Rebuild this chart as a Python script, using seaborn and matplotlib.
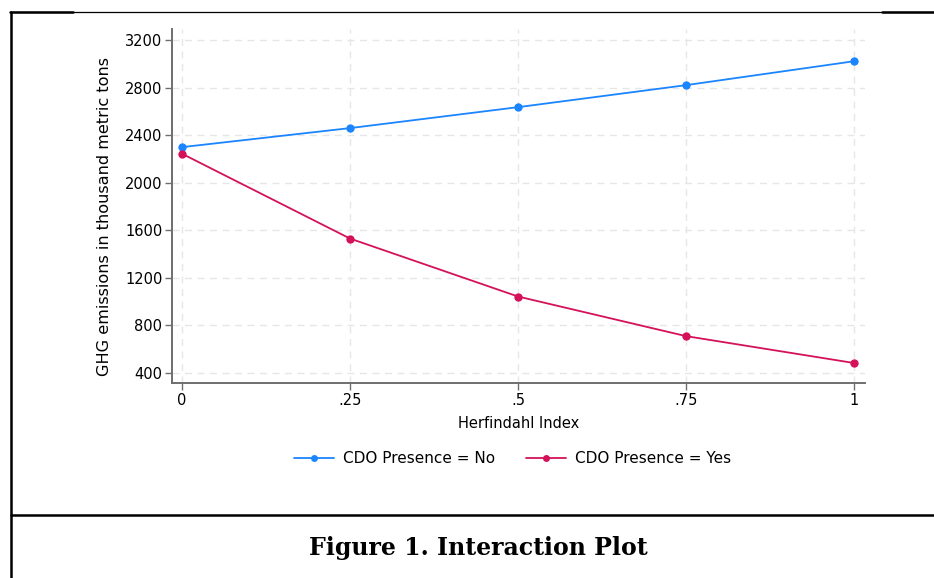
import pandas as pd
import matplotlib.pyplot as plt
import matplotlib.lines as mlines
import seaborn as sns

# values
herfindahl = [0, 0.25, 0.5, 0.75, 1]
ghg_no = [2299, 2459, 2635, 2820, 3021]
ghg_yes = [2243, 1530, 1043, 710, 484]
groups = ['CDO Presence = No', 'CDO Presence = Yes']
xtick_labels = ['0', '.25', '.5', '.75', '1']
yticks = [400, 800, 1200, 1600, 2000, 2400, 2800, 3200]

df = pd.DataFrame({
    'Herfindahl Index': herfindahl * 2,
    'GHG': ghg_no + ghg_yes,
    'group': [groups[0]] * len(ghg_no) + [groups[1]] * len(ghg_yes),
})

sns.set_theme(style='white')
plt.rcParams['font.family'] = ['DejaVu Sans']
plt.rcParams['text.color'] = 'black'
plt.rcParams['axes.labelcolor'] = 'black'

fig = plt.figure(figsize=(9.34, 5.78), dpi=100)
ax = fig.add_axes([0.1842, 0.3374, 0.7419, 0.6124])

palette = {groups[0]: '#1A85FF', groups[1]: '#D41159'}
sns.lineplot(data=df, x='Herfindahl Index', y='GHG', hue='group', palette=palette,
             marker='o', markersize=6, markeredgewidth=0, linewidth=1.3, ax=ax, legend=False)

ax.set_xlim(-0.015, 1.0164)
ax.set_ylim(316, 3292)
ax.set_xticks(herfindahl)
ax.set_xticklabels(xtick_labels)
ax.set_yticks(yticks)
ax.grid(True, linestyle=(0, (5, 4)), color='#e6e6e6', linewidth=1.0)
ax.set_axisbelow(True)
for s in ['top', 'right']:
    ax.spines[s].set_visible(False)
for s in ['left', 'bottom']:
    ax.spines[s].set_color('#6e6e6e')
    ax.spines[s].set_linewidth(1.4)
ax.tick_params(axis='both', direction='out', length=5, width=1, color='#6e6e6e',
               labelsize=10.5, labelcolor='black', pad=2, bottom=True, left=True)
ax.set_xlabel('Herfindahl Index', fontsize=10.5, labelpad=6)
ax.set_ylabel('GHG emissions in thousand metric tons', fontsize=11.6)
ax.yaxis.set_label_coords(-0.087, 0.469)

handles = [mlines.Line2D([], [], color=palette[g], marker='o', markersize=5,
                         markeredgewidth=0, linewidth=1.3) for g in groups]
fig.legend(handles, groups, loc='center', bbox_to_anchor=(0.549, 0.206), ncol=2,
           frameon=False, fontsize=11, handlelength=2.6, columnspacing=2.0, handletextpad=0.6)

# surrounding frame lines
fig.add_artist(mlines.Line2D([10 / 934, 1], [1 - 12 / 578] * 2, color='black', linewidth=0.9))
fig.add_artist(mlines.Line2D([10 / 934, 73 / 934], [1 - 12 / 578] * 2, color='black', linewidth=1.8))
fig.add_artist(mlines.Line2D([882 / 934, 1], [1 - 12 / 578] * 2, color='black', linewidth=1.8))
fig.add_artist(mlines.Line2D([11 / 934] * 2, [1 - 12 / 578, 0], color='black', linewidth=1.8))
fig.add_artist(mlines.Line2D([11 / 934, 1], [1 - 515 / 578] * 2, color='black', linewidth=1.8))

fig.text(478 / 934, 1 - 548 / 578, 'Figure 1. Interaction Plot', ha='center', va='center',
         fontsize=17, fontweight='bold', family=['DejaVu Serif'], color='black')

fig.savefig('out.png', dpi=100)
